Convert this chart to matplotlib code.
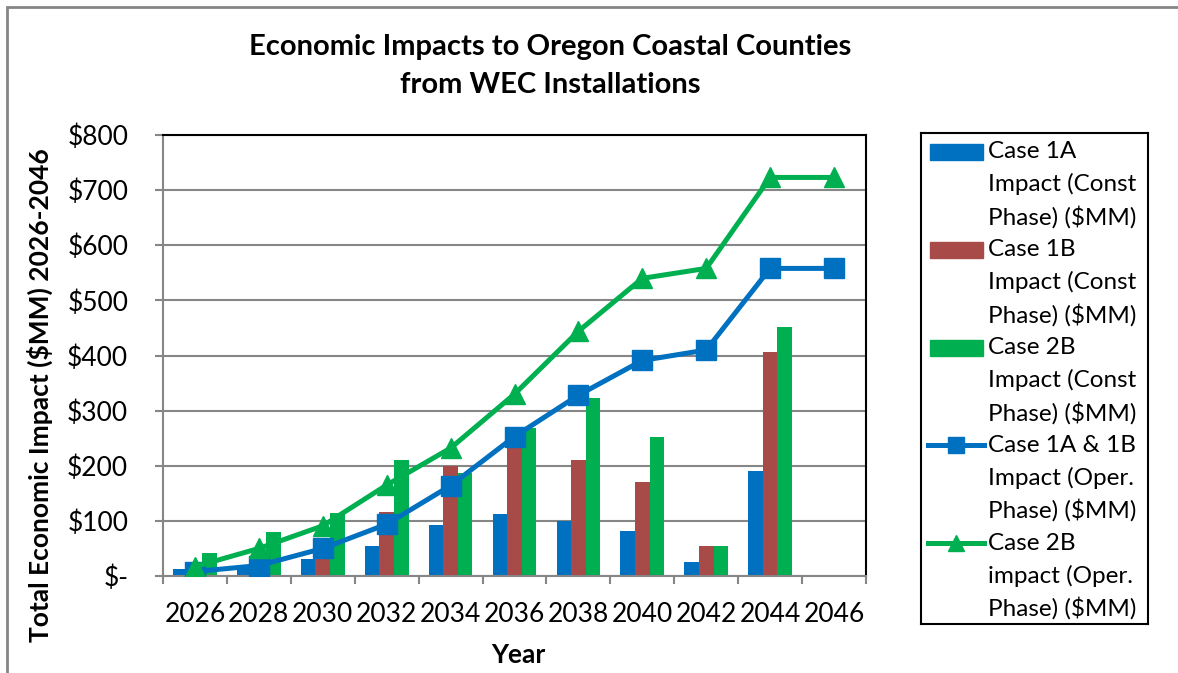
import numpy as np
import matplotlib
matplotlib.use("Agg")
import matplotlib.pyplot as plt
from matplotlib.patches import Rectangle
from matplotlib.lines import Line2D

plt.rcParams['font.family'] = ['Lato', 'DejaVu Sans']

# values ($MM)
years = ["2026", "2028", "2030", "2032", "2034", "2036", "2038", "2040", "2042", "2044", "2046"]
case_1a_const = [12, 20, 31, 55, 93, 112, 99, 81, 26, 190, 0]
case_1b_const = [3, 8, 45, 116, 200, 235, 210, 171, 54, 407, 0]
case_2b_const = [42, 80, 115, 211, 187, 268, 322, 253, 55, 451, 0]
case_1a_1b_oper = [8, 19, 50, 94, 164, 253, 328, 391, 410, 558, 558]
case_2b_oper = [17, 50, 91, 165, 232, 330, 444, 540, 558, 723, 723]
ytick_vals = [0, 100, 200, 300, 400, 500, 600, 700, 800]
ytick_labels = ["$-", "$100", "$200", "$300", "$400", "$500", "$600", "$700", "$800"]
legend_labels = [
    "Case 1A\nImpact (Const\nPhase) ($MM)",
    "Case 1B\nImpact (Const\nPhase) ($MM)",
    "Case 2B\nImpact (Const\nPhase) ($MM)",
    "Case 1A & 1B\nImpact (Oper.\nPhase) ($MM)",
    "Case 2B\nimpact (Oper.\nPhase) ($MM)",
]

BLUE = "#0070C0"
RED = "#A84A48"
GREEN = "#00B050"
GRAY = "#868686"

W, H = 1178, 673
fig = plt.figure(figsize=(W / 100, H / 100), dpi=100)
ax = fig.add_axes([163 / W, 1 - 576 / H, (866 - 163) / W, (576 - 135) / H])

x = np.arange(len(years))
bw = 0.228
ax.bar(x - bw, case_1a_const, bw, color=BLUE, zorder=2)
ax.bar(x, case_1b_const, bw, color=RED, zorder=2)
ax.bar(x + bw, case_2b_const, bw, color=GREEN, zorder=2)
ax.plot(x, case_1a_1b_oper, color=BLUE, lw=3.6, marker="s", ms=14, zorder=4)
ax.plot(x, case_2b_oper, color=GREEN, lw=3.6, marker="^", ms=15, zorder=5)

ax.set_xlim(-0.5, len(years) - 0.5)
ax.set_ylim(0, 800)
ax.set_yticks(ytick_vals)
ax.set_yticklabels(ytick_labels, fontsize=19)
ax.set_xticks(x)
ax.set_xticklabels(years, fontsize=19)
ax.set_xticks(np.arange(-0.5, len(years), 1), minor=True)
ax.tick_params(axis="x", which="major", length=0, pad=19)
ax.tick_params(axis="x", which="minor", length=6, width=1.5, color=GRAY)
ax.tick_params(axis="y", length=6, width=1.5, color=GRAY, pad=19)
ax.yaxis.grid(True, color=GRAY, lw=1.5)
ax.set_axisbelow(True)
for s in ["left", "bottom"]:
    ax.spines[s].set_color(GRAY)
    ax.spines[s].set_linewidth(1.5)
for s in ["top", "right"]:
    ax.spines[s].set_color("black")
    ax.spines[s].set_linewidth(1.5)

# titles
fig.text(550 / W, 1 - 47 / H, "Economic Impacts to Oregon Coastal Counties",
         ha="center", va="center", fontsize=21, fontweight="bold")
fig.text(550 / W, 1 - 85 / H, "from WEC Installations",
         ha="center", va="center", fontsize=21, fontweight="bold")
fig.text(40 / W, 1 - 395 / H, "Total Economic Impact ($MM) 2026-2046",
         rotation=90, ha="center", va="center", fontsize=19, fontweight="bold")
fig.text(518 / W, 1 - 655 / H, "Year", ha="center", va="center",
         fontsize=19, fontweight="bold")

# chart area border
fig.add_artist(Rectangle((7 / W, -0.1), 1.2, 1 - 7 / H + 0.1, transform=fig.transFigure,
                         fill=False, ec=GRAY, lw=2))

# legend box (pixel coordinates inside)
lx0, ly0, lx1, ly1 = 921, 133, 1148, 624
lax = fig.add_axes([lx0 / W, 1 - ly1 / H, (lx1 - lx0) / W, (ly1 - ly0) / H])
lax.set_xlim(0, lx1 - lx0)
lax.set_ylim(ly1 - ly0, 0)
lax.set_xticks([])
lax.set_yticks([])
for s in lax.spines.values():
    s.set_color("black")
    s.set_linewidth(1.5)

colors = [BLUE, RED, GREEN, BLUE, GREEN]
for i, lab in enumerate(legend_labels):
    for j, line in enumerate(lab.split("\n")):
        yc = 151.7 - ly0 + i * 97.9 + j * 32.6
        lax.text(988 - lx0, yc, line, ha="left", va="center", fontsize=17.5)
    yc = 151.7 - ly0 + i * 97.9
    if i < 3:
        lax.add_patch(Rectangle((930 - lx0, yc - 8), 53, 16, color=colors[i]))
    else:
        mk = "s" if i == 3 else "^"
        lax.add_line(Line2D([928 - lx0, 984 - lx0], [yc, yc], color=colors[i], lw=3.6))
        lax.add_line(Line2D([956 - lx0], [yc], color=colors[i], marker=mk, ms=11, lw=0))

fig.savefig("out.png", dpi=100)
